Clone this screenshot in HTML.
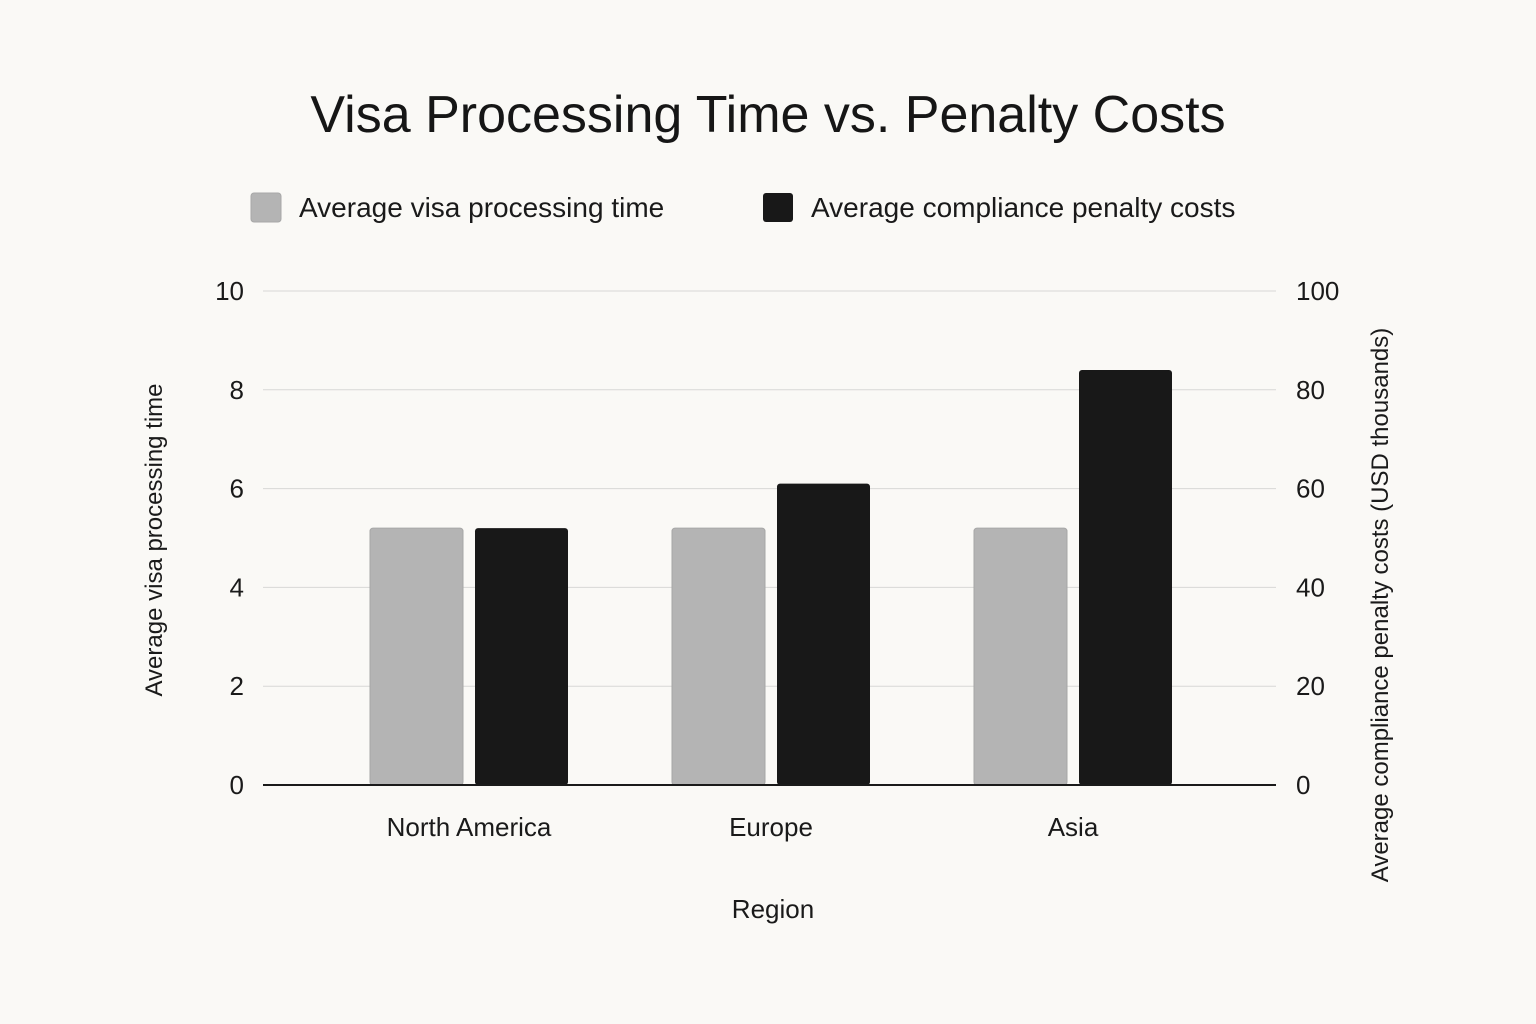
<!DOCTYPE html>
<html><head><meta charset="utf-8"><style>
html,body{margin:0;padding:0;background:#faf9f6;}
svg{display:block;font-family:"Liberation Sans",sans-serif;}
</style></head><body>
<svg id="chart" width="1536" height="1024" viewBox="0 0 1536 1024">
<rect width="1536" height="1024" fill="#faf9f6"/>
<text x="768" y="132" text-anchor="middle" font-size="52" font-weight="500" fill="#161616">Visa Processing Time vs. Penalty Costs</text>
<g>
<g>
<rect x="251" y="193" width="30" height="29" rx="3" fill="#b4b4b4" stroke="#a8a8a8"/>
<text x="299" y="217" font-size="28" fill="#1a1a1a">Average visa processing time</text></g>
<g>
<rect x="763" y="193" width="30" height="29" rx="3" fill="#181818"/>
<text x="811" y="217" font-size="28" fill="#1a1a1a">Average compliance penalty costs</text></g>
</g>
<g id="grid"></g>
<g id="bars"></g>
<g id="axes"></g>
<text x="773" y="918" text-anchor="middle" font-size="26" fill="#1a1a1a">Region</text>
<text transform="translate(162,540) rotate(-90)" text-anchor="middle" font-size="24" fill="#1a1a1a">Average visa processing time</text>
<text transform="translate(1388,605) rotate(-90)" text-anchor="middle" font-size="24" fill="#1a1a1a">Average compliance penalty costs (USD thousands)</text>
</svg>
<script>
const categories = ["North America", "Europe", "Asia"];
const processingTime = [5.2, 5.2, 5.2];
const penaltyCosts = [52, 61, 84];
const leftTicks = [0, 2, 4, 6, 8, 10];
const rightTicks = [0, 20, 40, 60, 80, 100];

const NS = "http://www.w3.org/2000/svg";
const y0 = 785, y1 = 291, gx0 = 263, gx1 = 1276;
const yL = v => y0 - (v / 10) * (y0 - y1);
const yR = v => y0 - (v / 100) * (y0 - y1);
const bandStart = 318, bandW = 302;
const xC = i => bandStart + bandW * (i + 0.5);
function mk(tag, attrs, parent) { const e = document.createElementNS(NS, tag); for (const k in attrs) e.setAttribute(k, attrs[k]); parent.appendChild(e); return e; }
const grid = document.getElementById("grid"), bars = document.getElementById("bars"), axes = document.getElementById("axes");
leftTicks.forEach((t, i) => {
  if (t !== 0) {
    const l = mk("line", {x1: gx0, x2: gx1, y1: yL(t), y2: yL(t), stroke: "#d8d8d6", "stroke-width": 1}, grid);
    
    
  }
  const tl = mk("text", {x: 244, y: yL(t) + 9, "text-anchor": "end", "font-size": 26, fill: "#1a1a1a"}, axes);
  tl.textContent = t;
  
  
});
rightTicks.forEach(t => {
  const tr = mk("text", {x: 1296, y: yR(t) + 9, "font-size": 26, fill: "#1a1a1a"}, axes);
  tr.textContent = t;
  
  
});
const bw = 93, gap = 12;
categories.forEach((c, i) => {
  const cx = xC(i);
  const g1 = mk("rect", {x: cx - gap / 2 - bw, y: yL(processingTime[i]), width: bw, height: y0 - yL(processingTime[i]), rx: 3, fill: "#b4b4b4", stroke: "#a6a6a6", "stroke-width": 1}, bars);
  
  
  const b1 = mk("rect", {x: cx + gap / 2, y: yR(penaltyCosts[i]), width: bw, height: y0 - yR(penaltyCosts[i]), rx: 3, fill: "#181818"}, bars);
  
  
  const lb = mk("text", {x: cx, y: 836, "text-anchor": "middle", "font-size": 26, fill: "#1a1a1a"}, axes);
  lb.textContent = c;
  
  
});
const base = mk("line", {x1: gx0, x2: gx1, y1: y0, y2: y0, stroke: "#1a1a1a", "stroke-width": 2}, axes);


</script>
</body></html>
